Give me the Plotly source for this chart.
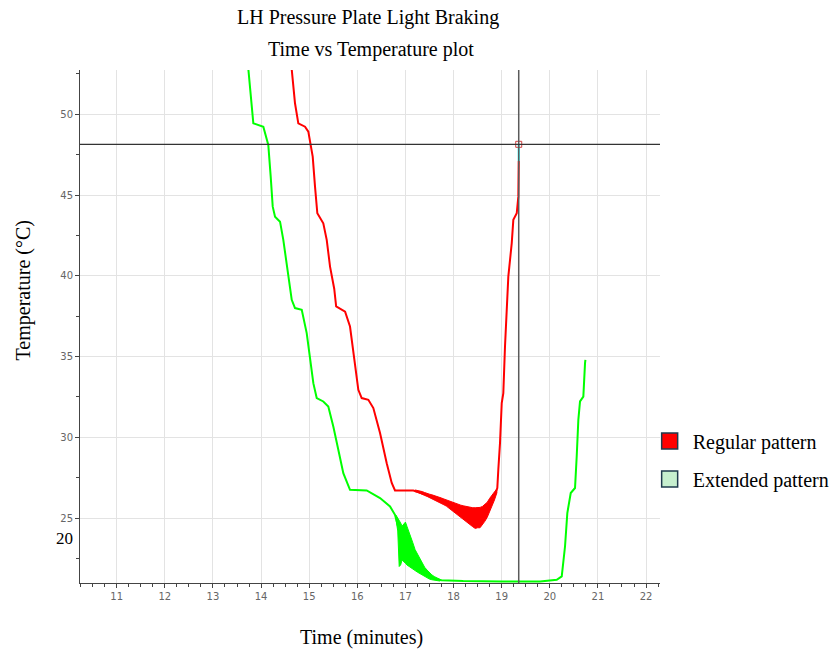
import plotly.graph_objects as go

# ---------------- data ----------------
# Regular pattern (red) – main trace, time in minutes, temperature in °C
red_t = [14.62, 14.705, 14.774, 14.913, 14.982, 15.032, 15.073, 15.121, 15.169, 15.293,
         15.364, 15.433, 15.52, 15.56, 15.746, 15.848, 15.884, 15.952, 16.021, 16.091,
         16.229, 16.333, 16.472, 16.611, 16.715, 16.783, 17.164, 17.51, 17.86, 18.2,
         18.45, 18.6, 18.76, 18.86, 18.909, 18.930, 18.965, 19.001, 19.034, 19.069,
         19.105, 19.138, 19.209, 19.242, 19.313, 19.346, 19.354]
red_T = [53.3, 50.68, 49.44, 49.23, 48.92, 48.10, 47.38, 45.52, 43.87, 43.25,
         42.22, 40.57, 39.2, 38.1, 37.78, 36.86, 36.03, 34.80, 32.94, 32.43,
         32.32, 31.81, 30.26, 28.40, 27.17, 26.71, 26.71, 26.37, 25.95, 25.35,
         25.0, 25.15, 25.8, 26.5, 26.86, 27.99, 29.64, 32.12, 32.74, 35.62,
         37.89, 39.95, 42.02, 43.46, 43.87, 44.90, 47.1]

# Regular pattern – noisy band (time, lower envelope, upper envelope)
red_noise_t = [17.20, 17.25, 17.30, 17.35, 17.40, 17.45, 17.50, 17.55, 17.60, 17.65,
               17.70, 17.75, 17.80, 17.85, 17.90, 17.95, 18.00, 18.05, 18.10, 18.15,
               18.20, 18.25, 18.30, 18.35, 18.40, 18.45, 18.50, 18.55, 18.60, 18.65,
               18.70, 18.75, 18.80, 18.85, 18.90]
red_noise_lo = [26.64, 26.60, 26.54, 26.48, 26.40, 26.34, 26.26, 26.20, 26.12, 26.05,
                25.98, 25.90, 25.82, 25.74, 25.64, 25.52, 25.42, 25.30, 25.18, 25.02,
                24.92, 24.80, 24.70, 24.58, 24.46, 24.36, 24.40, 24.40, 24.58, 24.80,
                25.05, 25.35, 25.78, 26.12, 26.56]
red_noise_hi = [26.74, 26.72, 26.68, 26.64, 26.58, 26.55, 26.48, 26.44, 26.40, 26.34,
                26.28, 26.24, 26.18, 26.12, 26.06, 26.00, 25.95, 25.92, 25.86, 25.80,
                25.76, 25.72, 25.68, 25.66, 25.64, 25.64, 25.64, 25.66, 25.72, 25.83,
                25.98, 26.22, 26.45, 26.62, 26.80]

# Extended pattern (green) – main trace
green_t = [13.72, 13.839, 14.047, 14.150, 14.200, 14.242, 14.290, 14.394, 14.462, 14.566,
           14.637, 14.705, 14.845, 14.948, 15.017, 15.086, 15.156, 15.293, 15.397, 15.501,
           15.605, 15.709, 15.848, 16.195, 16.472, 16.680, 16.783, 16.87, 17.0, 17.1,
           17.2, 17.3, 17.4, 17.5, 17.6, 17.75, 18.2, 19.0, 19.8, 20.144,
           20.248, 20.316, 20.364, 20.435, 20.524, 20.559, 20.593, 20.628, 20.697, 20.732,
           20.74]
green_T = [53.3, 49.44, 49.23, 48.10, 46.14, 44.28, 43.66, 43.35, 42.22, 39.95,
           38.51, 38.0, 37.89, 36.45, 35.0, 33.35, 32.43, 32.22, 31.9, 30.67,
           29.23, 27.78, 26.75, 26.71, 26.24, 25.72, 25.2, 24.2, 23.5, 23.0,
           22.4, 22.0, 21.65, 21.4, 21.25, 21.15, 21.10, 21.08, 21.08, 21.18,
           21.39, 23.24, 25.31, 26.55, 26.86, 28.81, 31.08, 32.22, 32.52, 34.59,
           34.8]

# Extended pattern – noisy band
green_noise_t = [16.80, 16.84, 16.87, 16.90, 16.93, 16.96, 17.00, 17.03, 17.07, 17.10,
                 17.15, 17.20, 17.25, 17.30, 17.35, 17.40, 17.45, 17.50, 17.55, 17.60,
                 17.65, 17.72]
green_noise_lo = [25.00, 24.20, 22.00, 22.10, 22.40, 22.30, 22.20, 22.10, 22.00, 21.95,
                  21.85, 21.75, 21.65, 21.55, 21.45, 21.38, 21.30, 21.22, 21.18, 21.14,
                  21.12, 21.10]
green_noise_hi = [25.20, 25.00, 24.90, 24.70, 24.50, 24.60, 24.75, 24.50, 24.20, 23.95,
                  23.50, 23.05, 22.75, 22.50, 22.20, 21.95, 21.78, 21.62, 21.48, 21.38,
                  21.30, 21.20]

# cursor (crosshair) read-out
cursor_t = 19.354
cursor_T = 48.14
cursor_seg_T = [47.1, 48.14]

# axes
x_range = [10.237, 22.29]
y_range = [20.98, 52.74]
x_ticks = [11, 12, 13, 14, 15, 16, 17, 18, 19, 20, 21, 22]
y_ticks = [25, 30, 35, 40, 45, 50]

series_names = ["Regular pattern", "Extended pattern"]
RED = "#ff0000"
GREEN = "#00ff00"
LEG_GREEN = "#c6efce"
SERIF = "Liberation Serif, Times New Roman, serif"
SANS = "DejaVu Sans, Verdana, sans-serif"

fig = go.Figure()

# noisy bands
fig.add_trace(go.Scatter(
    x=red_noise_t + red_noise_t[::-1], y=red_noise_hi + red_noise_lo[::-1],
    fill="toself", fillcolor=RED, mode="lines", line=dict(color=RED, width=1),
    showlegend=False, hoverinfo="skip"))
fig.add_trace(go.Scatter(
    x=green_noise_t + green_noise_t[::-1], y=green_noise_hi + green_noise_lo[::-1],
    fill="toself", fillcolor=GREEN, mode="lines", line=dict(color=GREEN, width=1),
    showlegend=False, hoverinfo="skip"))

# main lines
fig.add_trace(go.Scatter(x=green_t, y=green_T, mode="lines",
                         line=dict(color=GREEN, width=2), showlegend=False))
fig.add_trace(go.Scatter(x=red_t, y=red_T, mode="lines",
                         line=dict(color=RED, width=2), showlegend=False))

# cyan cursor segment
fig.add_trace(go.Scatter(x=[cursor_t, cursor_t], y=cursor_seg_T, mode="lines",
                         line=dict(color="#00ffff", width=2), showlegend=False))

# crosshair lines
fig.add_shape(type="line", xref="x", yref="paper", x0=cursor_t, x1=cursor_t, y0=0, y1=1,
              line=dict(color="#5a5a5a", width=1.5))
fig.add_shape(type="line", xref="paper", yref="y", x0=0, x1=1, y0=cursor_T, y1=cursor_T,
              line=dict(color="#333333", width=1.2))

# cursor markers
fig.add_trace(go.Scatter(x=[x_range[0] - 0.08], y=[cursor_T], mode="markers",
                         marker=dict(symbol="triangle-right-open", size=7, color="#444",
                                     line=dict(width=1)),
                         cliponaxis=False, showlegend=False))
fig.add_trace(go.Scatter(x=[cursor_t], y=[y_range[0] - 0.28], mode="markers",
                         marker=dict(symbol="triangle-up-open", size=7, color="#444",
                                     line=dict(width=1)),
                         cliponaxis=False, showlegend=False))
fig.add_trace(go.Scatter(x=[cursor_t], y=[cursor_T], mode="markers",
                         marker=dict(symbol="square-open", size=6, color="#d04040",
                                     line=dict(width=1)),
                         cliponaxis=False, showlegend=False))

# legend entries
fig.add_trace(go.Scatter(x=[None], y=[None], mode="markers", name=series_names[0],
                         legendgroup="a",
                         marker=dict(symbol="square", size=16, color=RED,
                                     line=dict(color="#1f3b4d", width=1.5))))
fig.add_trace(go.Scatter(x=[None], y=[None], mode="markers", name=series_names[1],
                         legendgroup="b",
                         marker=dict(symbol="square", size=16, color=LEG_GREEN,
                                     line=dict(color="#1f3b4d", width=1.5))))

axis_common = dict(
    showgrid=True, gridcolor="#e3e3e3", gridwidth=1,
    showline=True, linecolor="#444", linewidth=1,
    ticks="outside", ticklen=4, tickcolor="#444", tickwidth=1,
    zeroline=False, mirror=False,
    tickfont=dict(family=SANS, size=10, color="#666"),
)

fig.update_layout(
    width=831, height=650,
    margin=dict(l=80, r=171, t=70, b=67, autoexpand=False),
    paper_bgcolor="white", plot_bgcolor="white",
    xaxis=dict(range=x_range, tickvals=x_ticks,
               minor=dict(dtick=0.25, tick0=11, ticks="outside", ticklen=3,
                          tickcolor="#444", showgrid=False),
               **axis_common),
    yaxis=dict(range=y_range, tickvals=y_ticks,
               minor=dict(dtick=2.5, tick0=0, ticks="outside", ticklen=3,
                          tickcolor="#444", showgrid=False),
               **axis_common),
    legend=dict(x=0.977, xanchor="left", y=0.315, yanchor="top",
                font=dict(family=SERIF, size=20, color="black"),
                itemwidth=36,
                tracegroupgap=9, bgcolor="rgba(0,0,0,0)"),
    showlegend=True,
)

annotations = [
    dict(text="LH Pressure Plate Light Braking", xref="paper", yref="paper", x=0.5, y=1,
         xanchor="center", yanchor="middle", xshift=-2.5, yshift=53, showarrow=False,
         font=dict(family=SERIF, size=20, color="black")),
    dict(text="Time vs Temperature plot", xref="paper", yref="paper", x=0.5, y=1,
         xanchor="center", yanchor="middle", xshift=1, yshift=21, showarrow=False,
         font=dict(family=SERIF, size=20, color="black")),
    dict(text="Time (minutes)", xref="paper", yref="paper", x=0.5, y=0,
         xanchor="center", yanchor="middle", xshift=-8.5, yshift=-54, showarrow=False,
         font=dict(family=SERIF, size=20, color="black")),
    dict(text="Temperature (°C)", xref="paper", yref="paper", x=0, y=0.5,
         xanchor="center", yanchor="middle", xshift=-57.5, yshift=35.5, showarrow=False,
         textangle=-90, font=dict(family=SERIF, size=20, color="black")),
    dict(text="20", xref="paper", yref="y", x=0, y=23.72,
         xanchor="center", yanchor="middle", xshift=-16, showarrow=False,
         font=dict(family=SERIF, size=17, color="black")),
]
fig.update_layout(annotations=annotations)

fig.write_html("out.html")
